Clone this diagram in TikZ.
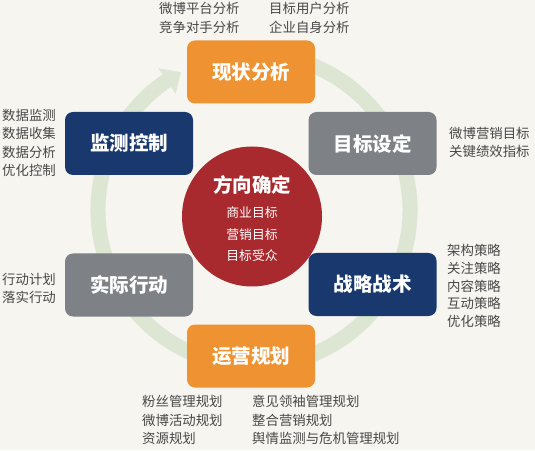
\documentclass[tikz,border=0pt]{standalone}
\usepackage{fontspec}
\newfontfamily\cjk{Noto Sans CJK SC}
\definecolor{bgc}{RGB}{246,245,240}
\definecolor{orangec}{RGB}{239,146,50}
\definecolor{navyc}{RGB}{24,56,110}
\definecolor{grayc}{RGB}{126,130,135}
\definecolor{redc}{RGB}{169,42,46}
\definecolor{ringc}{RGB}{220,230,210}
\definecolor{labelc}{RGB}{72,72,72}
\tikzset{
  stagebox/.style={rounded corners=8pt, minimum width=128pt, minimum height=63pt, inner sep=0pt,
    text=white, font=\cjk\bfseries\fontsize{19.5}{22}\selectfont},
  orangebox/.style={stagebox, fill=orangec},
  navybox/.style={stagebox, fill=navyc},
  graybox/.style={stagebox, fill=grayc},
  sidelabel/.style={anchor=north west, inner sep=0pt, align=left, text=labelc,
    font=\cjk\fontsize{13.4}{18.5}\selectfont},
}
\begin{document}
\begin{tikzpicture}[x=1pt,y=1pt]
\fill[bgc] (0,0) rectangle (535,450);
\useasboundingbox (0,0) rectangle (535,450);
% ring with arrow
\coordinate (rc) at (254,240);
\begin{scope}[shift={(rc)}]
  \draw[ringc, line width=15pt] (75:156) arc[start angle=75, end angle=-236, radius=156];
  \fill[ringc] (124:171) -- (118:156) -- (124:140) -- cycle;
\end{scope}
% boxes
\node[orangebox] (xz) at (251,378) {现状分析};
\node[navybox] (jc) at (129,306.5) {监测控制};
\node[graybox] (mb) at (372.5,306.5) {目标设定};
\node[graybox] (sj) at (129,165) {实际行动};
\node[navybox] (zl) at (372.5,165.5) {战略战术};
\node[orangebox] (yy) at (251,94) {运营规划};
% center circle
\node[circle, fill=redc, minimum size=140pt, inner sep=0pt] (fx) at (252,233.5) {};
\node[text=white, font=\cjk\bfseries\fontsize{19.5}{22}\selectfont] (fxt) at (252,265) {方向确定};
\node[text=white, align=center, font=\cjk\fontsize{12.8}{21.5}\selectfont, anchor=north] (fxs) at (252,246.5) {商业目标\\营销目标\\目标受众};
% labels
\node[sidelabel] (l1) at (159,448) {微博平台分析\\竞争对手分析};
\node[sidelabel] (l2) at (269,448) {目标用户分析\\企业自身分析};
\node[sidelabel] (l3) at (2,341) {数据监测\\数据收集\\数据分析\\优化控制};
\node[sidelabel] (l4) at (449,323) {微博营销目标\\关键绩效指标};
\node[sidelabel] (l5) at (2,177) {行动计划\\落实行动};
\node[sidelabel, font=\cjk\fontsize{13.4}{17.8}\selectfont] (l6) at (447,206) {架构策略\\关注策略\\内容策略\\互动策略\\优化策略};
\node[sidelabel] (l7) at (142,55) {粉丝管理规划\\微博活动规划\\资源规划};
\node[sidelabel] (l8) at (252,55) {意见领袖管理规划\\整合营销规划\\舆情监测与危机管理规划};
\end{tikzpicture}
\end{document}
